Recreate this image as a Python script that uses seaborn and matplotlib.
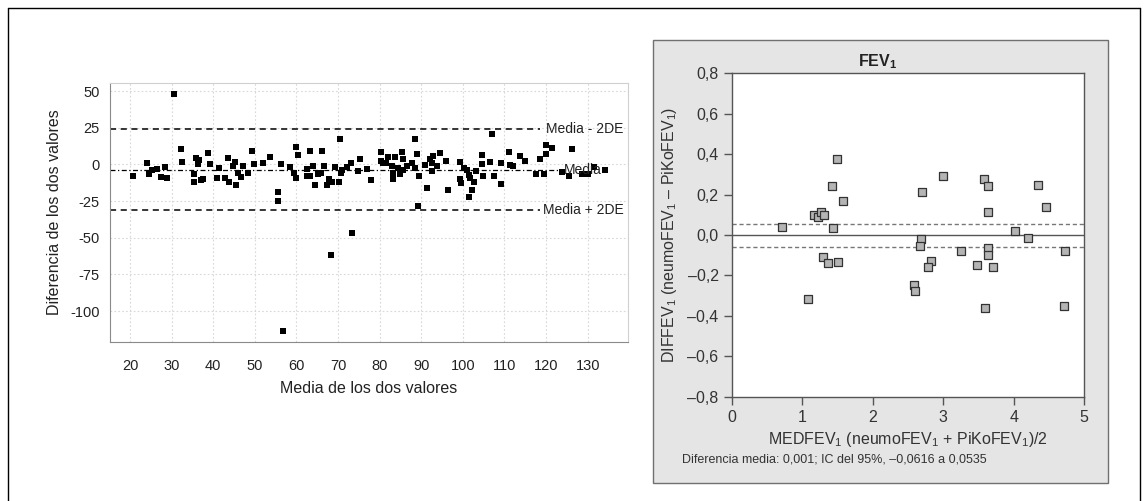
import numpy as np
import pandas as pd
import seaborn as sns
import matplotlib.pyplot as plt
from matplotlib.lines import Line2D
from matplotlib.patches import Rectangle
from matplotlib.ticker import FuncFormatter

# Left panel: Bland-Altman (media vs diferencia)
media = [20.8, 24.0, 24.6, 25.4, 26.4, 27.4, 28.3, 29.0, 30.6, 32.2, 32.5, 35.4, 35.9, 36.5, 36.3,
         35.4, 37.0, 37.6, 38.7, 39.3, 41.0, 41.3, 42.8, 43.6, 43.9, 44.8, 45.2, 45.5, 46.0, 46.6,
         47.2, 48.4, 49.4, 49.7, 52.0, 53.7, 55.6, 55.6, 56.2, 56.9, 58.5, 59.5, 59.8, 60.5, 59.8,
         62.5, 62.6, 63.3, 64.0, 63.3, 64.4, 65.3, 65.9, 66.2, 66.6, 67.3, 67.9, 68.5, 68.3, 69.3,
         70.2, 70.5, 70.7, 71.0, 72.1, 73.1, 73.4, 74.7, 75.4, 77.0, 77.9, 80.3, 80.3, 80.9, 81.5,
         82.1, 82.9, 83.7, 83.3, 83.3, 84.5, 84.9, 85.4, 85.6, 85.7, 86.5, 87.7, 88.4, 88.5, 89.0,
         89.4, 89.3, 90.9, 91.3, 92.1, 92.5, 92.6, 92.9, 93.7, 94.6, 95.9, 96.5, 99.4, 99.3, 99.5,
         100.2, 100.9, 101.4, 101.7, 102.2, 102.6, 101.4, 103.2, 104.5, 104.6, 104.8, 106.5, 107.0,
         107.5, 109.1, 109.1, 111.1, 111.3, 112.0, 113.8, 115.0, 117.6, 118.6, 119.6, 119.9, 119.9,
         121.4, 123.8, 125.4, 126.2, 128.6, 130.2, 131.6, 134.2]
diferencia = [-8.0, 0.7, -6.8, -3.9, -3.0, -8.5, -2.0, -8.9, 48.0, 10.2, 1.6, -6.2, 4.1, 2.9, 0.0,
              -12.3, -10.7, -10.0, 7.7, 0.0, -8.9, -2.3, -8.9, 4.3, -11.9, -0.9, 1.6, -14.1, -5.5, -8.5,
              -0.9, -5.9, 9.5, 0.1, 0.7, 5.2, -18.7, -24.8, 0.0, -113.3, -2.0, -5.5, 12.0, 6.1, -8.9,
              -3.2, -8.0, 9.3, -0.9, -8.0, -14.3, -6.6, -5.5, 9.3, -0.9, -14.1, -9.8, -12.3, -61.4, -2.0,
              -11.9, 17.5, -5.5, -3.9, -1.8, 0.7, -46.7, -4.4, 3.4, -3.0, -10.7, 8.4, 2.5, 0.7, 1.1,
              4.8, -1.2, 5.2, -5.7, -9.8, -2.7, -6.2, 8.6, -3.9, 3.4, -0.9, 0.7, 17.5, -2.7, 6.8,
              -8.0, -28.3, -0.5, -16.2, 3.4, 1.1, -4.4, 5.7, -0.9, 7.9, 2.5, -17.7, 1.6, -10.2, -12.6,
              -2.7, -3.9, -7.3, -8.9, -17.1, -12.3, -22.1, -4.6, 6.1, 0.0, -8.0, 1.6, 20.9,
              -8.0, 0.7, -13.2, 8.6, -0.5, -0.9, 5.7, 2.5, -6.2, 3.4, -6.2, 7.0, 13.0,
              11.3, -5.0, -8.0, 10.2, -6.2, -6.2, -1.6, -3.6]
limite_sup = 23.9
media_dif = -3.9
limite_inf = -31.2

# Right panel: FEV1
medfev = [0.72, 1.50, 1.42, 1.58, 1.17, 1.23, 1.26, 1.31, 1.44, 1.30, 1.36, 1.51, 1.08,
          3.00, 2.70, 3.58, 3.63, 4.34, 4.45, 3.63, 4.02, 4.20, 2.68, 2.67, 3.25, 3.64, 3.64,
          4.73, 2.83, 2.78, 3.48, 3.71, 2.58, 2.60, 3.59, 4.71]
diffev = [0.038, 0.376, 0.240, 0.168, 0.100, 0.087, 0.112, 0.100, 0.033, -0.109, -0.137, -0.132, -0.317,
          0.292, 0.211, 0.277, 0.240, 0.246, 0.137, 0.114, 0.018, -0.016, -0.020, -0.053, -0.081, -0.066, -0.099,
          -0.081, -0.130, -0.160, -0.150, -0.160, -0.249, -0.279, -0.361, -0.353]
ic_sup = 0.0535
ic_inf = -0.0616
dif_media = 0.001

sns.set_style("white")
plt.rcParams['font.family'] = ['Liberation Sans', 'DejaVu Sans']
plt.rcParams['mathtext.fontset'] = 'custom'
plt.rcParams['mathtext.rm'] = 'Liberation Sans'
plt.rcParams['mathtext.bf'] = 'Liberation Sans:bold'
plt.rcParams['axes.unicode_minus'] = False

W, H = 1145, 501
fig = plt.figure(figsize=(W / 100, H / 100), dpi=100)

# outer frame of the figure
for (xs, ys) in [((8, 1140), (8, 8)), ((8, 8), (8, 501)), ((1140, 1140), (8, 501))]:
    fig.add_artist(Line2D([x / W for x in xs], [1 - y / H for y in ys], color='black', lw=1.0))

# gray panel behind right plot
fig.add_artist(Rectangle((653 / W, 1 - 483 / H), (1108 - 653) / W, (483 - 40) / H,
                         facecolor='#e5e5e5', edgecolor='#707070', lw=1.0, zorder=0))

# ---------- left plot ----------
ax1 = fig.add_axes([110 / W, 1 - 342 / H, 518 / W, 259 / H])
df1 = pd.DataFrame({'media': media, 'dif': diferencia})
sns.scatterplot(data=df1, x='media', y='dif', ax=ax1, marker='s', s=22, color='black',
                edgecolor='black', linewidth=0, zorder=3)
ax1.set_xlim(15.2, 139.7)
ax1.set_ylim(-121, 55.5)
ax1.set_xticks(range(20, 131, 10))
ax1.set_yticks([50, 25, 0, -25, -50, -75, -100])
ax1.grid(True, color='#d8d8d8', linestyle=(0, (1.5, 2)), lw=0.8)
for side in ['top', 'right']:
    ax1.spines[side].set_color('#d0d0d0')
for side in ['left', 'bottom']:
    ax1.spines[side].set_color('#8a8a8a')
ax1.tick_params(axis='both', labelsize=10.5, colors='#8a8a8a', labelcolor='#222222',
                length=4, direction='out')
ax1.tick_params(axis='x', pad=8)
ax1.set_xlabel('Media de los dos valores', fontsize=11.5, color='#222222', labelpad=6)
ax1.set_ylabel('Diferencia de los dos valores', fontsize=11.5, color='#222222', labelpad=6)

ax1.plot([15.2, 118.5], [limite_sup, limite_sup], color='black', ls=(0, (4, 3)), lw=1.1, zorder=2)
ax1.plot([15.2, 118.5], [limite_inf, limite_inf], color='black', ls=(0, (4, 3)), lw=1.1, zorder=2)
ax1.plot([15.2, 124], [media_dif, media_dif], color='black', ls=(0, (4, 2, 1, 2)), lw=0.9, zorder=2)
ax1.text(138.7, limite_sup, 'Media - 2DE', ha='right', va='center', fontsize=10, color='#222222')
ax1.text(133.5, media_dif, 'Media', ha='right', va='center', fontsize=10, color='#222222')
ax1.text(138.7, limite_inf, 'Media + 2DE', ha='right', va='center', fontsize=10, color='#222222')

# ---------- right plot ----------
ax2 = fig.add_axes([731.7 / W, 1 - 396.7 / H, (1084.3 - 731.7) / W, (396.7 - 73.3) / H])
ax2.set_facecolor('white')
df2 = pd.DataFrame({'med': medfev, 'diff': diffev})
sns.scatterplot(data=df2, x='med', y='diff', ax=ax2, marker='s', s=26, color='#b4b4b4',
                edgecolor='#333333', linewidth=0.9, zorder=3)
ax2.set_xlim(0, 5)
ax2.set_ylim(-0.8, 0.8)
ax2.set_xticks(range(0, 6))
ax2.set_yticks(np.round(np.arange(-0.8, 0.81, 0.2), 1))


def coma(v, pos):
    if abs(v) < 1e-9:
        return '0,0'
    return ('%.1f' % v).replace('.', ',').replace('-', '\u2013')


ax2.yaxis.set_major_formatter(FuncFormatter(coma))
for side in ax2.spines:
    ax2.spines[side].set_color('#555555')
    ax2.spines[side].set_linewidth(1.0)
ax2.tick_params(axis='both', labelsize=11.5, colors='#555555', labelcolor='#333333',
                length=6, width=1.0, direction='out', left=True, bottom=True)
ax2.axhline(dif_media, color='#555555', lw=1.0, zorder=2)
ax2.axhline(ic_sup, color='#777777', ls=(0, (3, 2)), lw=1.0, zorder=2)
ax2.axhline(ic_inf, color='#777777', ls=(0, (3, 2)), lw=1.0, zorder=2)
ax2.set_xlabel('MEDFEV$_1$ (neumoFEV$_1$ + PiKoFEV$_1$)/2', fontsize=11.5, color='#333333',
               labelpad=4)
ax2.set_ylabel('DIFFEV$_1$ (neumoFEV$_1$ \u2013 PiKoFEV$_1$)', fontsize=11.5, color='#333333',
               labelpad=6)

fig.text(878 / W, 1 - 62 / H, r'$\mathbf{FEV_1}$', ha='center', va='center', fontsize=11.5,
         color='#222222')
fig.text(682 / W, 1 - 460 / H,
         'Diferencia media: 0,001; IC del 95%, \u20130,0616 a 0,0535',
         ha='left', va='center', fontsize=9, color='#333333')

fig.savefig('out.png', dpi=100)
